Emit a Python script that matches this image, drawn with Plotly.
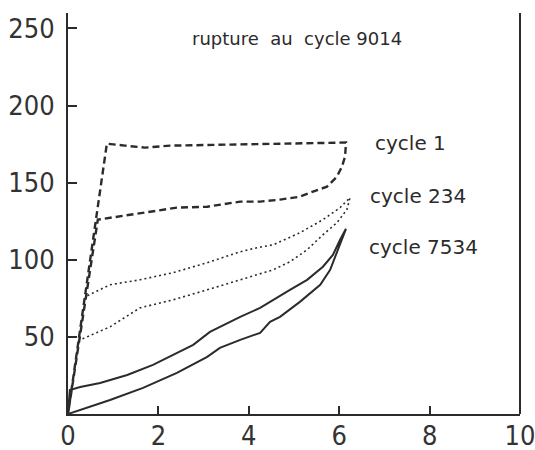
import plotly.graph_objects as go

# cycle 1 (dashed): loading, plateau, unloading back to origin
c1_x = [0, 0.86, 1.26, 1.70, 2.26, 3.36, 4.69, 6.15,
        6.13, 6.06, 5.95, 5.73, 5.42, 5.13, 4.69, 4.25, 3.81, 3.08, 2.41, 1.66, 0.93, 0.66, 0]
c1_y = [0, 175.3, 174, 172.7, 174, 174.7, 175.3, 176,
        166.9, 160.4, 153.9, 147.4, 144.2, 140.9, 139.0, 137.7, 137.7, 134.4, 133.8, 130.5, 127.3, 126.0, 0]

# cycle 234 (dotted): lower branch out to the tip, upper branch back
c234_x = [0.22, 0.93, 1.59, 2.32, 3.08, 3.81, 4.54, 4.91, 5.29, 5.64, 5.95, 6.17, 6.24,
          6.02, 5.64, 5.13, 4.54, 4.18, 3.81, 3.08, 2.32, 1.59, 0.93, 0.38]
c234_y = [47.4, 56.5, 68.8, 74.0, 80.5, 87.0, 93.5, 98.7, 106.5, 116.2, 124.0, 132.5, 140.3,
          133.8, 126.0, 117.5, 109.7, 107.8, 105.2, 98.1, 91.6, 87.0, 83.8, 76.0]

# cycle 7534 (solid): lower branch out, upper branch back
c7534_x = [0, 0.42, 0.93, 1.66, 2.41, 3.08, 3.36, 3.81, 4.25, 4.47, 4.69, 5.13, 5.58, 5.80, 5.91, 6.02, 6.15,
           6.02, 5.86, 5.64, 5.29, 4.91, 4.54, 4.25, 3.81, 3.58, 3.14, 2.77, 2.41, 1.88, 1.31, 0.71, 0.27, 0.04, 0]
c7534_y = [0, 3.9, 9.1, 16.9, 26.6, 37.0, 42.9, 48.1, 52.6, 59.7, 63.0, 72.7, 83.8, 93.5, 102.0, 111.0, 120.1,
           113.0, 103.2, 95.5, 87.0, 80.5, 74.0, 68.8, 63.0, 59.7, 53.2, 44.8, 39.6, 31.8, 25.3, 20.1, 17.5, 15.6, 0]

x_ticks = [0, 2, 4, 6, 8, 10]
y_ticks = [50, 100, 150, 200, 250]

ink = "#2b2b2b"

fig = go.Figure()
fig.add_trace(go.Scatter(x=c1_x, y=c1_y, mode="lines",
                         line=dict(color=ink, width=2.4, dash="7px,4px")))
fig.add_trace(go.Scatter(x=c234_x, y=c234_y, mode="lines",
                         line=dict(color=ink, width=1.6, dash="2px,3px")))
fig.add_trace(go.Scatter(x=c7534_x, y=c7534_y, mode="lines",
                         line=dict(color=ink, width=2)))

label_font = dict(family="DejaVu Sans", size=20, color=ink)
fig.add_annotation(x=6.75, y=176, text="cycle 1", showarrow=False, xanchor="left", font=label_font)
fig.add_annotation(x=6.64, y=141.6, text="cycle 234", showarrow=False, xanchor="left", font=label_font)
fig.add_annotation(x=6.62, y=108.4, text="cycle 7534", showarrow=False, xanchor="left", font=label_font)
fig.add_annotation(x=5.07, y=243.5, text="rupture\u00a0\u00a0au\u00a0\u00a0cycle 9014", showarrow=False,
                   font=dict(family="DejaVu Sans", size=18, color=ink))

# right-hand frame line (paper ref so it isn't clipped)
fig.add_shape(type="line", xref="paper", yref="paper", x0=1, x1=1, y0=0, y1=1,
              line=dict(color=ink, width=2))

tick_font = dict(family="DejaVu Sans Condensed, DejaVu Sans", size=27, color="#333")

fig.update_layout(
    width=535, height=450,
    margin=dict(l=68, r=15, t=13, b=36),
    paper_bgcolor="white", plot_bgcolor="white",
    showlegend=False,
    xaxis=dict(range=[0, 10], tickvals=x_ticks, ticks="inside", ticklen=8, tickwidth=1.5,
               tickcolor=ink, showline=True, linecolor=ink, linewidth=2, showgrid=False,
               zeroline=False, tickfont=tick_font, ticklabelstandoff=-3,
               automargin=False, ticklabeloverflow="allow"),
    yaxis=dict(range=[0, 260], tickvals=y_ticks, ticks="inside", ticklen=9, tickwidth=1.5,
               tickcolor=ink, showline=True, linecolor=ink, linewidth=2,
               showgrid=False, zeroline=False, tickfont=tick_font, ticklabelstandoff=6,
               automargin=False),
)

# drop the page's default body margin so the figure fills the window
fig.write_html("out.html", config={"displayModeBar": False},
               post_script="document.body.style.margin='0';document.body.style.overflow='hidden';")
